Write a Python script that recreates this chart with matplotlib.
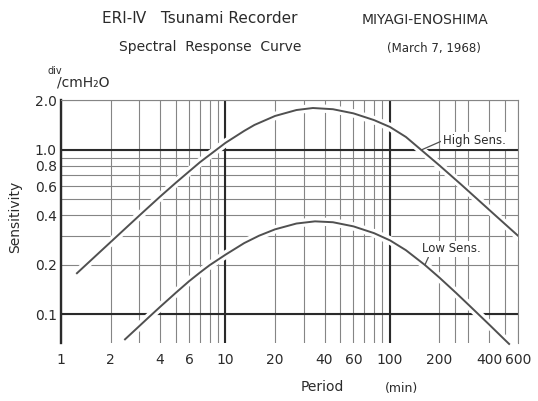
import numpy as np
import matplotlib
matplotlib.use("Agg")
import matplotlib.pyplot as plt
import matplotlib.patheffects as pe
from matplotlib.ticker import FixedLocator, FixedFormatter, NullFormatter

# readings (period in min, sensitivity in div/cmH2O)
period_high = [1.25, 2, 3, 4, 5, 7, 10, 13, 15, 20, 27, 34, 45, 60, 80, 100, 125, 155, 200, 270, 340, 430, 600]
sens_high = [0.178, 0.275, 0.40, 0.52, 0.633, 0.843, 1.105, 1.307, 1.42, 1.61, 1.75, 1.80, 1.77, 1.67,
             1.52, 1.38, 1.20, 1.0, 0.805, 0.618, 0.502, 0.406, 0.301]

period_low = [2.45, 3.4, 4, 5, 6, 7, 8, 10, 13, 16, 20, 27, 35, 45, 60, 80, 100, 125, 163, 200, 250,
              300, 400, 500, 530]
sens_low = [0.0705, 0.0956, 0.111, 0.1356, 0.159, 0.1798, 0.199, 0.2307, 0.2715, 0.301, 0.329, 0.357,
            0.368, 0.3635, 0.343, 0.312, 0.282, 0.2457, 0.1998, 0.1672, 0.1362, 0.1145, 0.0869,
            0.0699, 0.0661]

x_major = [1, 2, 4, 6, 10, 20, 40, 60, 100, 200, 400, 600]
x_labels = ['1', '2', '4', '6', '10', '20', '40', '60', '100', '200', '400', '600']
x_minor = [3, 5, 7, 8, 9, 30, 50, 70, 80, 90, 250, 300, 500]
y_major = [0.1, 0.2, 0.4, 0.6, 0.8, 1.0, 2.0]
y_labels = ['0.1', '0.2', '0.4', '0.6', '0.8', '1.0', '2.0']
y_minor = [0.3, 0.5, 0.7, 0.9]

ink = '#2b2b2b'
plt.rcParams['font.family'] = ['DejaVu Sans']

fig = plt.figure(figsize=(5.38, 4.01), dpi=100)
ax = fig.add_axes([61 / 538, 0.1439, 0.8494, 0.6055])
ax.set_xscale('log')
ax.set_yscale('log')
ax.set_xlim(1, 600)
ax.set_ylim(0.0667, 2.0)

ax.xaxis.set_major_locator(FixedLocator(x_major))
ax.xaxis.set_major_formatter(FixedFormatter(x_labels))
ax.xaxis.set_minor_locator(FixedLocator(x_minor))
ax.xaxis.set_minor_formatter(NullFormatter())
ax.yaxis.set_major_locator(FixedLocator(y_major))
ax.yaxis.set_major_formatter(FixedFormatter(y_labels))
ax.yaxis.set_minor_locator(FixedLocator(y_minor))
ax.yaxis.set_minor_formatter(NullFormatter())
ax.tick_params(which='both', length=0, colors=ink, labelsize=10)
ax.tick_params(axis='x', pad=7)
ax.tick_params(axis='y', pad=3)

# grid paper
ax.grid(True, which='both', color='#858585', linewidth=0.8)
ax.set_axisbelow(True)
for v in (10, 100):
    ax.axvline(v, color='#2a2a2a', linewidth=1.5, zorder=1)
for h in (0.1, 1.0):
    ax.axhline(h, color='#2a2a2a', linewidth=1.5, zorder=1)

ax.spines['bottom'].set_visible(False)
ax.spines['left'].set_color('#2a2a2a')
ax.spines['left'].set_linewidth(1.7)
for s in ('top', 'right'):
    ax.spines[s].set_color('#858585')
    ax.spines[s].set_linewidth(0.8)

halo = [pe.Stroke(linewidth=6, foreground='white'), pe.Normal()]
ax.plot(period_high, sens_high, color='#505050', linewidth=1.4, path_effects=halo, zorder=3,
        solid_joinstyle='round')
ax.plot(period_low, sens_low, color='#505050', linewidth=1.4, path_effects=halo, zorder=3,
        solid_joinstyle='round', clip_on=False)

lead = dict(arrowstyle='-', color='#505050', linewidth=0.9, shrinkA=0, shrinkB=0)
ax.annotate('High Sens.', xy=(period_high[17], sens_high[17]), xytext=(15.5, 6.8),
            textcoords='offset points', ha='left', va='center', fontsize=8.5, color=ink,
            arrowprops=dict(lead, relpos=(0, 0.5)), zorder=4,
            bbox=dict(boxstyle='square,pad=0.15', fc='white', ec='none'))
ax.annotate('Low Sens.', xy=(period_low[18], sens_low[18]), xytext=(-2.4, 11.5),
            textcoords='offset points', ha='left', va='center', fontsize=8.5, color=ink,
            arrowprops=dict(lead, relpos=(0.13, 0)), zorder=4,
            bbox=dict(boxstyle='square,pad=0.15', fc='white', ec='none'))

# headings
fig.text(0.372, 0.955, 'ERI-Ⅳ   Tsunami Recorder', ha='center', va='center', fontsize=11, color=ink)
fig.text(0.790, 0.950, 'MIYAGI-ENOSHIMA', ha='center', va='center', fontsize=10, color=ink)
fig.text(0.390, 0.883, 'Spectral  Response  Curve', ha='center', va='center', fontsize=10, color=ink)
fig.text(0.807, 0.880, '(March 7, 1968)', ha='center', va='center', fontsize=8.5, color=ink)
fig.text(0.0874, 0.822, 'div', ha='left', va='center', fontsize=7, color=ink)
fig.text(0.106, 0.7955, '/cmH₂O', ha='left', va='center', fontsize=10, color=ink)

fig.text(0.028, 0.459, 'Sensitivity', rotation=90, ha='center', va='center', fontsize=10, color=ink)
fig.text(0.599, 0.035, 'Period', ha='center', va='center', fontsize=10, color=ink)
fig.text(0.747, 0.030, '(min)', ha='center', va='center', fontsize=9, color=ink)

fig.savefig('out.png', dpi=100, facecolor='white')
